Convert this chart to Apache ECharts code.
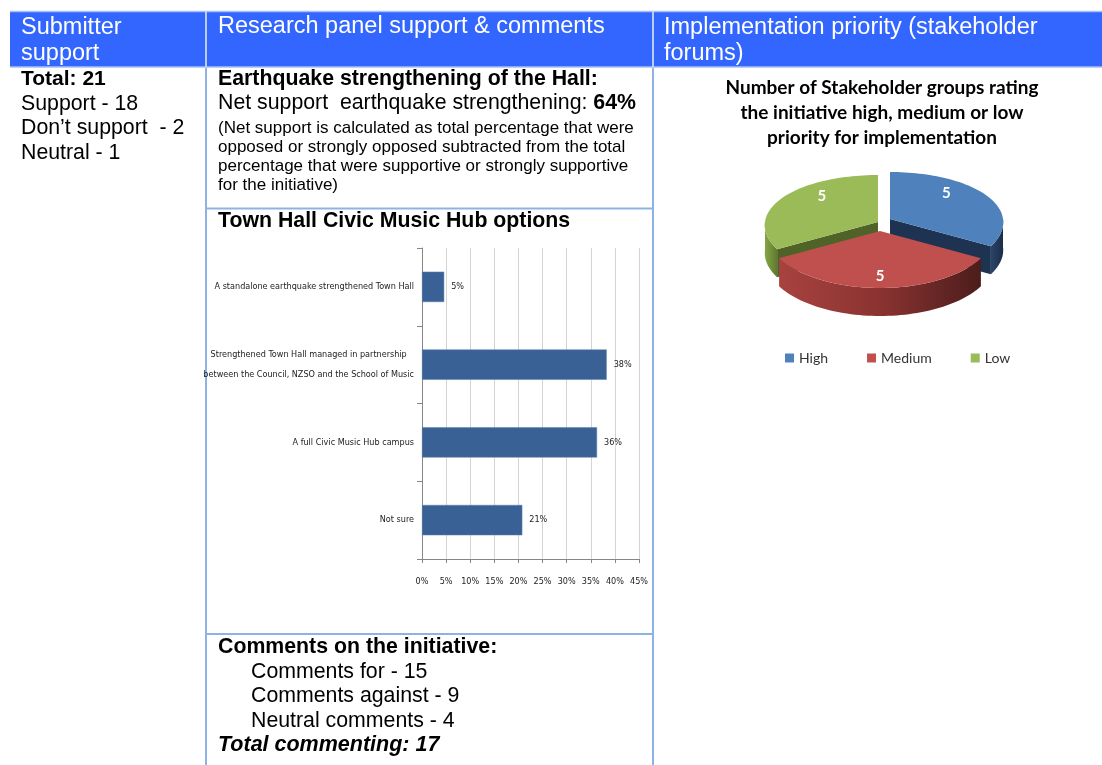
<!DOCTYPE html>
<html><head><meta charset="utf-8">
<script src="https://cdn.jsdelivr.net/npm/echarts@6/dist/echarts.min.js"></script>
<style>html,body{margin:0;padding:0;background:#fff;}#c{width:1102px;height:765px;}</style>
</head><body><div id="c"></div>
<script>
// ---- data ----
const headerTitles = ['Submitter\nsupport', 'Research panel support & comments', 'Implementation priority (stakeholder\nforums)'];
const submitterTotal = 21;
const submitterLabels = ['Support', 'Don\u2019t support ', 'Neutral'];
const submitterCounts = [18, 2, 1];
const netSupport = 64;
const optionCategories = [
  'A standalone earthquake strengthened Town Hall',
  'Strengthened Town Hall managed in partnership\nbetween the Council, NZSO and the School of Music',
  'A full Civic Music Hub campus',
  'Not sure'
];
const optionValues = [4.6, 38.3, 36.3, 20.8];
const commentLabels = ['Comments for', 'Comments against', 'Neutral comments'];
const commentCounts = [15, 9, 4];
const totalCommenting = 17;
const priorityNames = ['High', 'Medium', 'Low'];
const priorityValues = [5, 5, 5];

// ---- styling ----
const SANS = "'Liberation Sans', Arial, sans-serif";
const NARROW = "'DejaVu Sans Condensed', 'Liberation Sans', sans-serif";
const CAL = "Lato, 'Open Sans', sans-serif";
const topColors = ['#4f81bd', '#c0504d', '#9bbb59'];
const radialColors = ['#1e3352', '#6e2826', '#4f6228'];
const wallColors = [
  {type:'linear',x:0,y:0,x2:1,y2:0,colorStops:[{offset:0,color:'#2a4468'},{offset:1,color:'#1b2d47'}]},
  {type:'linear',x:0,y:0,x2:1,y2:0,colorStops:[{offset:0,color:'#a8423f'},{offset:0.5,color:'#8a3331'},{offset:1,color:'#4c1d1c'}]},
  {type:'linear',x:0,y:0,x2:1,y2:0,colorStops:[{offset:0,color:'#86a548'},{offset:1,color:'#5f7a2c'}]}
];
const pieGeo = {cx: 880, cy: 224, rxBack: 106, rxFront: 120, ryBack: 47, ryFront: 57, depth: 28};
const sliceOffsets = [[10, -5], [0, 7], [-2, -2]];

function ptOn(cx, cy, a) {
  const f = (1 - Math.cos(a)) / 2;
  const rx = pieGeo.rxBack + (pieGeo.rxFront - pieGeo.rxBack) * f;
  const ry = pieGeo.ryBack + (pieGeo.ryFront - pieGeo.ryBack) * f;
  return [cx + rx * Math.sin(a), cy - ry * Math.cos(a)];
}
function arcPts(cx, cy, a0, a1, dy) {
  const pts = [], n = 60;
  for (let i = 0; i <= n; i++) {
    const p = ptOn(cx, cy, a0 + (a1 - a0) * i / n);
    pts.push([p[0], p[1] + (dy || 0)]);
  }
  return pts;
}
function makeSliceRenderer(idx) {
  return function (params, api) {
    const total = priorityValues.reduce((s, v) => s + v, 0);
    let before = 0;
    for (let i = 0; i < idx; i++) before += priorityValues[i];
    const v = api.value(0);
    const a0 = before / total * Math.PI * 2;
    const a1 = (before + v) / total * Math.PI * 2;
    const cx = pieGeo.cx + sliceOffsets[idx][0];
    const cy = pieGeo.cy + sliceOffsets[idx][1];
    const d = pieGeo.depth;
    const children = [];
    function radial(a) {
      const p = ptOn(cx, cy, a);
      children.push({type:'polygon', shape:{points:[[cx,cy],p,[p[0],p[1]+d],[cx,cy+d]]}, style:{fill: radialColors[idx]}});
    }
    if (Math.sin(a0) < -1e-6) radial(a0);
    if (Math.sin(a1) > 1e-6) radial(a1);
    const w0 = Math.max(a0, Math.PI / 2), w1 = Math.min(a1, Math.PI * 1.5);
    if (w1 > w0) {
      const top = arcPts(cx, cy, w0, w1, 0);
      const bot = arcPts(cx, cy, w0, w1, d).reverse();
      children.push({type:'polygon', shape:{points: top.concat(bot)}, style:{fill: wallColors[idx]}});
    }
    children.push({type:'polygon', shape:{points: [[cx, cy]].concat(arcPts(cx, cy, a0, a1, 0))}, style:{fill: topColors[idx]}});
    const mid = (a0 + a1) / 2;
    const c = Math.cos(mid);
    const ry = c >= 0 ? pieGeo.ryBack : pieGeo.ryFront;
    const ky = c >= 0 ? 1.1 : 0.8;
    children.push({type:'text', style:{text: String(v), x: cx + Math.sin(mid) * 112 * 0.58, y: cy - c * ry * ky,
      fill:'#fff', font:'bold 15px ' + CAL, align:'center', verticalAlign:'middle'}});
    return {type:'group', children};
  };
}

// ---- graphic (table) ----
const g = [];
function txt(x, y, text, font, fill, extra) {
  g.push({type:'text', silent:true, style:Object.assign({text, x, y, font, fill: fill || '#000',
    align:'left', textAlign:'left', verticalAlign:'middle', textVerticalAlign:'middle'}, extra || {})});
}
function line(x1, y1, x2, y2, color, w) {
  g.push({type:'line', silent:true, shape:{x1,y1,x2,y2}, style:{stroke: color, lineWidth: w || 2}});
}
g.push({type:'rect', silent:true, shape:{x:10, y:11, width:1092, height:56}, style:{fill:'#3366ff'}});
line(10, 11.5, 1102, 11.5, '#a8bff2', 1.5);
line(10, 67, 1102, 67, '#a8bff2', 1.5);
line(206, 11, 206, 67, '#b9cdf6', 2);
line(653, 11, 653, 67, '#b9cdf6', 2);
line(206, 68, 206, 765, '#8db3e6', 2);
line(653, 68, 653, 765, '#8db3e6', 2);
line(206, 208.5, 653, 208.5, '#8db3e6', 2);
line(206, 634, 653, 634, '#8db3e6', 2);

const HF = '23.5px ' + SANS;
txt(21, 40.5, headerTitles[0], HF, '#fff', {lineHeight: 26});
txt(218, 27, headerTitles[1], HF, '#fff');
txt(664, 40.5, headerTitles[2], HF, '#fff', {lineHeight: 26});

const BF = '21.3px ' + SANS, BB = 'bold 21.3px ' + SANS;
txt(21, 79, 'Total: ' + submitterTotal, 'bold 21px ' + SANS);
submitterLabels.forEach((l, i) => txt(21, 104 + i * 24.5, l + ' - ' + submitterCounts[i], BF));

txt(218, 79, 'Earthquake strengthening of the Hall:', BB);
txt(218, 103, '{n|Net support  earthquake strengthening: }{b|' + netSupport + '%}', BF, '#000',
  {rich:{n:{font:BF, fill:'#000'}, b:{font:BB, fill:'#000'}}});
txt(218, 156.5, '(Net support is calculated as total percentage that were\nopposed or strongly opposed subtracted from the total\npercentage that were supportive or strongly supportive\nfor the initiative)',
  '17px ' + SANS, '#000', {lineHeight: 19});
txt(218, 221, 'Town Hall Civic Music Hub options', BB);

txt(218, 647, 'Comments on the initiative:', BB);
commentLabels.forEach((l, i) => txt(251, 672 + i * 24.5, l + ' - ' + commentCounts[i], BF));
txt(218, 745, 'Total commenting: ' + totalCommenting, 'italic bold 21.5px ' + SANS);

txt(882, 113, 'Number of Stakeholder groups rating\nthe initiative high, medium or low\npriority for implementation',
  'bold 19px ' + CAL, '#000', {align:'center', textAlign:'center', lineHeight: 25});

const chart = echarts.init(document.getElementById('c'), null, {renderer:'canvas'});
chart.setOption({
  animation: false,
  backgroundColor: '#fff',
  graphic: {elements: g},
  legend: {
    data: priorityNames, left: 785, top: 351, padding: 0, icon: 'rect', itemWidth: 9, itemHeight: 9, itemGap: 39,
    textStyle: {fontFamily: CAL, fontSize: 14, color: '#333'}, selectedMode: false
  },
  grid: {left: 422, right: 463, top: 248, bottom: 206, containLabel: false},
  xAxis: {
    type: 'value', min: 0, max: 45, interval: 5,
    axisLine: {show: true, lineStyle: {color: '#868686'}},
    axisTick: {show: true, length: 4, lineStyle: {color: '#868686'}},
    splitLine: {show: true, lineStyle: {color: '#d4d4d4'}},
    axisLabel: {formatter: '{value}%', fontFamily: NARROW, fontSize: 9, color: '#222', margin: 18}
  },
  yAxis: {
    type: 'category', inverse: true, data: optionCategories,
    axisLine: {show: true, lineStyle: {color: '#868686'}},
    axisTick: {show: true, length: 5, lineStyle: {color: '#868686'}},
    axisLabel: {
      fontFamily: NARROW, fontSize: 9, color: '#222', margin: 8,
      formatter: function (v) {
        const lines = v.split('\n');
        if (lines.length === 1) return v;
        return lines.map(l => '{c|' + l + '}').join('\n');
      },
      rich: {c: {align: 'center', fontFamily: NARROW, fontSize: 9, color: '#222', lineHeight: 20}}
    }
  },
  series: [
    {
      type: 'bar', data: optionValues, barWidth: '39%',
      itemStyle: {color: '#3a6195', borderColor: '#5a80b0', borderWidth: 0.5},
      label: {show: true, position: 'right', distance: 7, fontFamily: NARROW, fontSize: 9, color: '#222',
        formatter: p => Math.round(p.value) + '%'}
    },
    {type:'custom', name: priorityNames[0], coordinateSystem:'none', data:[priorityValues[0]], renderItem: makeSliceRenderer(0), itemStyle:{color: topColors[0]}, z: 3, silent: true},
    {type:'custom', name: priorityNames[1], coordinateSystem:'none', data:[priorityValues[1]], renderItem: makeSliceRenderer(1), itemStyle:{color: topColors[1]}, z: 4, silent: true},
    {type:'custom', name: priorityNames[2], coordinateSystem:'none', data:[priorityValues[2]], renderItem: makeSliceRenderer(2), itemStyle:{color: topColors[2]}, z: 2, silent: true}
  ]
});
</script></body></html>
